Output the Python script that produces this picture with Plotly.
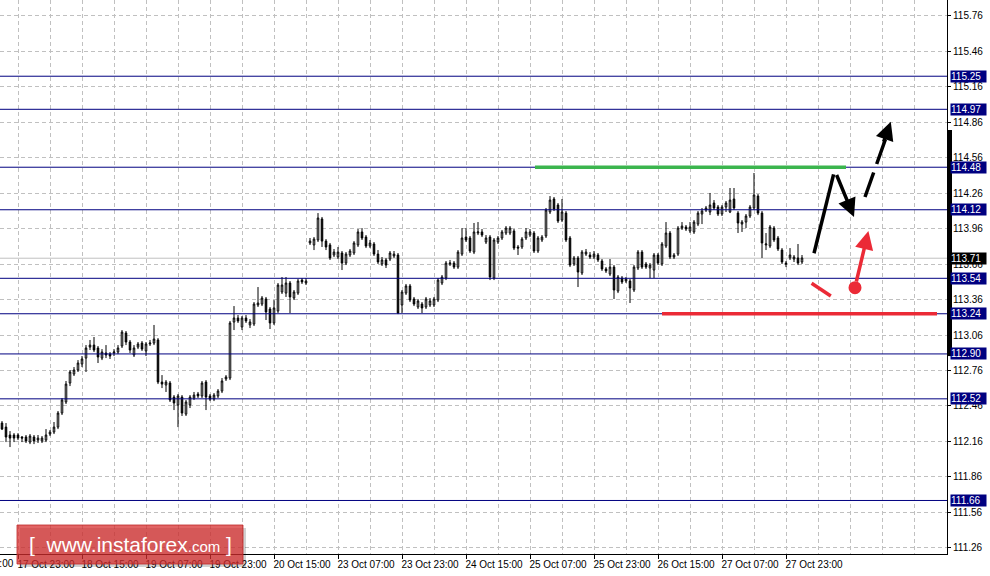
import plotly.graph_objects as go

# ---------------- data (USD/JPY H1) ----------------
OPEN = [
    112.315, 112.281, 112.214, 112.214, 112.214, 112.197, 112.197, 112.154, 112.197, 112.171,
    112.163, 112.171, 112.222, 112.239, 112.281, 112.400, 112.493, 112.654, 112.730, 112.764,
    112.815, 112.865, 112.958, 112.975, 112.950, 112.865, 112.908, 112.899, 112.908, 112.916,
    112.967, 113.077, 113.001, 112.891, 112.958, 112.992, 112.925, 112.984, 112.992, 113.018,
    112.662, 112.637, 112.654, 112.535, 112.468, 112.535, 112.391, 112.468, 112.527, 112.561,
    112.544, 112.662, 112.544, 112.518, 112.544, 112.586, 112.688, 112.696, 113.170, 113.204,
    113.128, 113.204, 113.145, 113.153, 113.314, 113.322, 113.365, 113.280, 113.162, 113.263,
    113.424, 113.415, 113.500, 113.373, 113.415, 113.525, 113.500, 113.839, 113.822, 113.864,
    114.042, 113.855, 113.822, 113.737, 113.720, 113.754, 113.669, 113.737, 113.754, 113.822,
    113.932, 113.889, 113.813, 113.830, 113.745, 113.661, 113.695, 113.703, 113.729, 113.737,
    113.314, 113.415, 113.475, 113.365, 113.297, 113.322, 113.297, 113.314, 113.314, 113.356,
    113.500, 113.542, 113.661, 113.669, 113.635, 113.745, 113.889, 113.881, 113.762, 113.923,
    113.932, 113.847, 113.889, 113.542, 113.847, 113.881, 113.923, 113.923, 113.940, 113.805,
    113.805, 113.881, 113.906, 113.923, 113.771, 113.864, 113.898, 114.101, 114.211, 114.160,
    114.033, 114.092, 113.881, 113.661, 113.712, 113.585, 113.745, 113.737, 113.720, 113.737,
    113.686, 113.619, 113.576, 113.635, 113.432, 113.542, 113.517, 113.517, 113.441, 113.627,
    113.762, 113.661, 113.627, 113.610, 113.737, 113.661, 113.813, 113.923, 113.720, 113.745,
    113.965, 113.974, 113.940, 113.932, 113.999, 114.084, 114.118, 114.101, 114.177, 114.143,
    114.084, 114.143, 114.101, 114.211, 114.092, 113.999, 114.016, 114.067, 114.135, 114.236,
    114.092, 113.822, 113.813, 113.965, 113.881, 113.779, 113.669, 113.712, 113.703, 113.712,
    113.678,
]
HIGH = [
    112.332, 112.315, 112.247, 112.230, 112.230, 112.205, 112.214, 112.222, 112.214, 112.214,
    112.205, 112.264, 112.256, 112.324, 112.417, 112.527, 112.671, 112.764, 112.789, 112.848,
    112.882, 112.975, 113.018, 113.043, 112.967, 112.941, 112.975, 112.916, 112.941, 112.975,
    113.102, 113.094, 113.018, 112.975, 113.001, 113.009, 113.001, 113.018, 113.145, 113.034,
    112.721, 112.679, 112.671, 112.552, 112.561, 112.552, 112.510, 112.552, 112.578, 112.578,
    112.671, 112.679, 112.561, 112.569, 112.603, 112.696, 112.721, 113.179, 113.305, 113.229,
    113.221, 113.229, 113.195, 113.339, 113.466, 113.390, 113.382, 113.297, 113.356, 113.500,
    113.551, 113.551, 113.517, 113.441, 113.534, 113.542, 113.542, 113.881, 113.889, 114.092,
    114.059, 113.872, 113.839, 113.788, 113.805, 113.771, 113.762, 113.788, 113.855, 113.957,
    113.965, 113.906, 113.864, 113.847, 113.779, 113.720, 113.712, 113.771, 113.771, 113.754,
    113.441, 113.492, 113.492, 113.382, 113.365, 113.339, 113.382, 113.373, 113.382, 113.542,
    113.568, 113.686, 113.695, 113.686, 113.779, 113.965, 113.965, 113.898, 114.008, 114.016,
    113.957, 113.906, 113.906, 113.881, 113.898, 113.949, 113.982, 113.982, 113.957, 113.822,
    113.889, 113.965, 113.957, 113.940, 113.898, 113.906, 114.135, 114.236, 114.228, 114.177,
    114.211, 114.109, 113.898, 113.729, 113.729, 113.779, 113.788, 113.762, 113.771, 113.754,
    113.703, 113.635, 113.703, 113.652, 113.568, 113.559, 113.551, 113.534, 113.652, 113.779,
    113.779, 113.678, 113.669, 113.754, 113.754, 113.847, 114.016, 113.940, 113.754, 113.982,
    114.016, 113.991, 114.016, 114.033, 114.109, 114.135, 114.152, 114.262, 114.202, 114.160,
    114.160, 114.194, 114.304, 114.304, 114.109, 114.033, 114.084, 114.160, 114.431, 114.253,
    114.109, 113.923, 113.991, 113.982, 113.898, 113.796, 113.686, 113.796, 113.737, 113.830,
    113.737,
]
LOW = [
    112.256, 112.154, 112.112, 112.154, 112.171, 112.154, 112.146, 112.137, 112.137, 112.146,
    112.146, 112.154, 112.205, 112.222, 112.264, 112.383, 112.476, 112.628, 112.713, 112.747,
    112.789, 112.747, 112.933, 112.916, 112.823, 112.848, 112.865, 112.857, 112.882, 112.899,
    112.950, 112.975, 112.908, 112.874, 112.941, 112.925, 112.882, 112.967, 112.975, 112.645,
    112.611, 112.578, 112.493, 112.425, 112.281, 112.375, 112.375, 112.442, 112.510, 112.527,
    112.527, 112.425, 112.501, 112.501, 112.527, 112.569, 112.671, 112.679, 113.102, 113.162,
    113.102, 113.162, 113.119, 113.136, 113.297, 113.305, 113.187, 113.111, 113.145, 113.246,
    113.407, 113.382, 113.246, 113.356, 113.399, 113.492, 113.483, 113.822, 113.779, 113.847,
    113.805, 113.779, 113.695, 113.720, 113.703, 113.610, 113.652, 113.720, 113.737, 113.805,
    113.864, 113.796, 113.796, 113.729, 113.661, 113.644, 113.627, 113.686, 113.712, 113.237,
    113.246, 113.399, 113.339, 113.305, 113.280, 113.246, 113.280, 113.297, 113.297, 113.339,
    113.483, 113.525, 113.644, 113.619, 113.619, 113.729, 113.847, 113.754, 113.745, 113.906,
    113.889, 113.830, 113.525, 113.525, 113.830, 113.864, 113.906, 113.906, 113.779, 113.737,
    113.788, 113.864, 113.889, 113.754, 113.754, 113.847, 113.881, 114.084, 114.109, 114.008,
    114.016, 113.847, 113.635, 113.644, 113.466, 113.568, 113.729, 113.703, 113.703, 113.678,
    113.602, 113.585, 113.559, 113.365, 113.415, 113.492, 113.500, 113.331, 113.424, 113.610,
    113.619, 113.619, 113.542, 113.542, 113.652, 113.644, 113.796, 113.703, 113.703, 113.729,
    113.949, 113.940, 113.923, 113.915, 113.982, 113.999, 114.101, 114.075, 114.118, 114.067,
    114.067, 114.101, 114.092, 114.118, 113.923, 113.932, 113.965, 114.050, 114.118, 114.075,
    113.712, 113.779, 113.796, 113.847, 113.771, 113.661, 113.635, 113.695, 113.678, 113.652,
    113.661,
]
CLOSE = [
    112.264, 112.197, 112.188, 112.188, 112.188, 112.188, 112.163, 112.205, 112.163, 112.188,
    112.188, 112.214, 112.239, 112.281, 112.400, 112.510, 112.645, 112.747, 112.764, 112.823,
    112.857, 112.950, 112.975, 112.933, 112.874, 112.916, 112.891, 112.882, 112.916, 112.950,
    113.085, 113.001, 112.933, 112.950, 112.984, 112.941, 112.984, 112.992, 113.026, 112.662,
    112.645, 112.662, 112.510, 112.485, 112.544, 112.400, 112.493, 112.535, 112.552, 112.544,
    112.654, 112.535, 112.518, 112.552, 112.586, 112.671, 112.705, 113.162, 113.204, 113.179,
    113.204, 113.179, 113.170, 113.322, 113.331, 113.373, 113.255, 113.162, 113.289, 113.483,
    113.483, 113.500, 113.382, 113.424, 113.517, 113.509, 113.517, 113.855, 113.872, 114.050,
    113.855, 113.805, 113.712, 113.762, 113.762, 113.669, 113.745, 113.771, 113.839, 113.932,
    113.881, 113.813, 113.839, 113.745, 113.678, 113.695, 113.652, 113.754, 113.745, 113.246,
    113.424, 113.475, 113.356, 113.322, 113.348, 113.289, 113.365, 113.348, 113.365, 113.525,
    113.551, 113.669, 113.669, 113.635, 113.762, 113.881, 113.864, 113.771, 113.932, 113.932,
    113.906, 113.881, 113.551, 113.864, 113.881, 113.932, 113.965, 113.965, 113.796, 113.796,
    113.872, 113.932, 113.932, 113.771, 113.881, 113.889, 114.118, 114.202, 114.126, 114.025,
    114.101, 113.864, 113.652, 113.712, 113.593, 113.762, 113.762, 113.720, 113.745, 113.695,
    113.619, 113.602, 113.635, 113.441, 113.551, 113.509, 113.534, 113.458, 113.635, 113.762,
    113.635, 113.635, 113.652, 113.737, 113.669, 113.830, 113.923, 113.720, 113.737, 113.965,
    113.982, 113.957, 113.974, 114.016, 114.092, 114.109, 114.135, 114.160, 114.135, 114.084,
    114.143, 114.177, 114.202, 114.135, 114.008, 114.016, 114.067, 114.143, 114.245, 114.092,
    113.839, 113.830, 113.974, 113.864, 113.788, 113.678, 113.661, 113.737, 113.720, 113.669,
    113.712,
]
BARS = list(range(len(CLOSE)))

TICK_BARS = [4, 20, 36, 52, 68, 84, 100, 116, 132, 148, 164, 180, 196]
TICK_LABELS = ["17 Oct 23:00", "18 Oct 15:00", "19 Oct 07:00", "19 Oct 23:00",
               "20 Oct 15:00", "23 Oct 07:00", "23 Oct 23:00", "24 Oct 15:00",
               "25 Oct 07:00", "25 Oct 23:00", "26 Oct 15:00", "27 Oct 07:00",
               "27 Oct 23:00"]
FIRST_LABEL = "17 Oct 07:00"
GRID_BARS = [4 + 8 * i for i in range(30)]

PRICE_TICKS = [115.76, 115.46, 115.16, 114.86, 114.56, 114.26, 113.96, 113.66,
               113.36, 113.06, 112.76, 112.46, 112.16, 111.86, 111.56, 111.26]
LEVELS = [115.25, 114.97, 114.48, 114.12, 113.54, 113.24, 112.90, 112.52, 111.66]
CURRENT_PRICE = 113.71

RESIST_LEVEL = 114.48
SUPPORT_LEVEL = 113.24

# analyst drawing (bar index, price)
UP_LEG = [(203.0, 113.752), (207.9, 114.419)]
DOWN_ARROW = [(208.5, 114.427), (213.0, 114.059)]
DASH_LEG = [(215.75, 114.228), (220.9, 114.72)]
DASH_HEAD = [(220.3, 114.685), (222.2, 114.865)]
RED_TICK = [(202.4, 113.498), (207.2, 113.390)]
RED_DOT = (213.25, 113.461)
RED_ARROW = [(213.5, 113.500), (216.6, 113.940)]
GREEN_SPAN = (133.25, 211.0)
RED_SPAN = (165.0, 233.75)

X_RANGE = [-0.5, 236.25]
Y_RANGE = [111.207, 115.895]

NAVY = "#000080"
GRID = "#c0c0c0"
GREEN = "#3bb54e"
RED = "#eb2a36"
FONT = "Liberation Sans"
PLOT_W = 947
PLOT_H = 554

fig = go.Figure()
fig.add_trace(go.Candlestick(
    x=BARS, open=OPEN, high=HIGH, low=LOW, close=CLOSE,
    increasing=dict(line=dict(color="black", width=1), fillcolor="white"),
    decreasing=dict(line=dict(color="black", width=1), fillcolor="black"),
    whiskerwidth=0, hoverinfo="none", showlegend=False,
))

shapes = []
shapes.append(dict(type="line", xref="paper", x0=0, x1=1, yref="y",
                   y0=CURRENT_PRICE, y1=CURRENT_PRICE,
                   line=dict(color="#c0c0c0", width=1), layer="between"))
for lv in LEVELS:
    shapes.append(dict(type="line", xref="paper", x0=0, x1=1, yref="y", y0=lv, y1=lv,
                       line=dict(color=NAVY, width=1), layer="above"))
shapes.append(dict(type="line", xref="x", yref="y", x0=GREEN_SPAN[0], x1=GREEN_SPAN[1],
                   y0=RESIST_LEVEL, y1=RESIST_LEVEL, line=dict(color=GREEN, width=3.5), layer="above"))
shapes.append(dict(type="line", xref="x", yref="y", x0=RED_SPAN[0], x1=RED_SPAN[1],
                   y0=SUPPORT_LEVEL, y1=SUPPORT_LEVEL, line=dict(color=RED, width=3.5), layer="above"))
shapes.append(dict(type="line", xref="x", yref="y", x0=UP_LEG[0][0], y0=UP_LEG[0][1],
                   x1=UP_LEG[1][0], y1=UP_LEG[1][1], line=dict(color="black", width=3.5), layer="above"))
shapes.append(dict(type="line", xref="x", yref="y", x0=DASH_LEG[0][0], y0=DASH_LEG[0][1],
                   x1=DASH_LEG[1][0], y1=DASH_LEG[1][1],
                   line=dict(color="black", width=3.5, dash="26px,9px"), layer="above"))
shapes.append(dict(type="line", xref="x", yref="y", x0=RED_TICK[0][0], y0=RED_TICK[0][1],
                   x1=RED_TICK[1][0], y1=RED_TICK[1][1], line=dict(color=RED, width=3.5), layer="above"))
shapes.append(dict(type="circle", xref="x", yref="y", xsizemode="pixel", ysizemode="pixel",
                   xanchor=RED_DOT[0], yanchor=RED_DOT[1], x0=-6.5, x1=6.5, y0=-6.5, y1=6.5,
                   fillcolor=RED, line=dict(width=0), layer="above"))
shapes.append(dict(type="rect", xref="paper", xsizemode="pixel", xanchor=1, x0=1, x1=5,
                   yref="y", y0=112.882, y1=114.795, fillcolor="black", line=dict(width=0),
                   layer="above"))
wx0, wx1 = 17 / PLOT_W, 243 / PLOT_W
wy0, wy1 = (PLOT_H - 564) / PLOT_H, (PLOT_H - 525) / PLOT_H
shapes.append(dict(type="rect", xref="paper", yref="paper",
                   x0=wx0 + 3 / PLOT_W, x1=wx1 + 3 / PLOT_W, y0=wy0 - 3 / PLOT_H, y1=wy1 - 3 / PLOT_H,
                   fillcolor="rgba(0,0,0,0.18)", line=dict(width=0), layer="above"))
shapes.append(dict(type="rect", xref="paper", yref="paper", x0=wx0, x1=wx1, y0=wy0, y1=wy1,
                   fillcolor="rgba(214,46,46,0.74)", line=dict(color="rgba(190,40,40,0.8)", width=1),
                   layer="above"))

annotations = []
for lv in LEVELS:
    annotations.append(dict(xref="paper", x=1, xanchor="left", xshift=3, yref="y", y=lv,
                            yanchor="middle", text=f"{lv:.2f}", showarrow=False,
                            bgcolor=NAVY, font=dict(color="white", size=10, family=FONT),
                            width=35, height=11, align="left", borderpad=0))
annotations.append(dict(xref="paper", x=1, xanchor="left", xshift=3, yref="y", y=CURRENT_PRICE,
                        yanchor="middle", text=f"{CURRENT_PRICE:.2f}", showarrow=False,
                        bgcolor="black", font=dict(color="white", size=10, family=FONT),
                        width=35, height=11, align="left", borderpad=0))
annotations.append(dict(xref="x", yref="y", axref="x", ayref="y",
                        x=DOWN_ARROW[1][0], y=DOWN_ARROW[1][1], ax=DOWN_ARROW[0][0], ay=DOWN_ARROW[0][1],
                        text="", showarrow=True, arrowhead=2, arrowsize=1.05, arrowwidth=3.5,
                        arrowcolor="black", standoff=0))
annotations.append(dict(xref="x", yref="y", axref="x", ayref="y",
                        x=DASH_HEAD[1][0], y=DASH_HEAD[1][1], ax=DASH_HEAD[0][0], ay=DASH_HEAD[0][1],
                        text="", showarrow=True, arrowhead=2, arrowsize=1.05, arrowwidth=3.5,
                        arrowcolor="black", standoff=0))
annotations.append(dict(xref="x", yref="y", axref="x", ayref="y",
                        x=RED_ARROW[1][0], y=RED_ARROW[1][1], ax=RED_ARROW[0][0], ay=RED_ARROW[0][1],
                        text="", showarrow=True, arrowhead=2, arrowsize=1.05, arrowwidth=3.5,
                        arrowcolor=RED, standoff=0))
annotations.append(dict(xref="paper", x=-46 / PLOT_W, xanchor="left", yref="paper", y=0,
                        yanchor="top", yshift=-2, text=FIRST_LABEL, showarrow=False,
                        font=dict(color="black", size=10, family=FONT)))
annotations.append(dict(xref="paper", yref="paper", x=(wx0 + wx1) / 2, y=(wy0 + wy1) / 2,
                        xanchor="center", yanchor="middle", showarrow=False,
                        text="[  www.instaforex<span style='font-size:15px'>.com</span> ]",
                        font=dict(color="white", size=21, family=FONT)))

fig.update_layout(
    width=990, height=576,
    margin=dict(l=0, r=990 - PLOT_W, t=0, b=576 - PLOT_H, pad=0),
    paper_bgcolor="white", plot_bgcolor="white",
    showlegend=False, boxgap=0.45, hovermode=False,
    shapes=shapes, annotations=annotations,
    xaxis=dict(
        range=X_RANGE, rangeslider=dict(visible=False), fixedrange=True,
        tickmode="array", tickvals=TICK_BARS, ticktext=TICK_LABELS,
        ticks="outside", ticklen=4, tickcolor="black", tickwidth=1,
        ticklabelshift=28, ticklabelstandoff=-3,
        showline=True, linecolor="black", linewidth=1,
        showgrid=True, gridcolor=GRID, griddash="4px,3px", gridwidth=1,
        minor=dict(tickmode="array", tickvals=GRID_BARS, showgrid=True, gridcolor=GRID,
                   griddash="4px,3px", gridwidth=1, ticks=""),
        tickfont=dict(color="black", size=10, family=FONT),
        zeroline=False,
    ),
    yaxis=dict(
        range=Y_RANGE, side="right", fixedrange=True,
        tickmode="array", tickvals=PRICE_TICKS, ticktext=[f"{v:.2f}" for v in PRICE_TICKS],
        ticks="outside", ticklen=3, tickcolor="black", tickwidth=1,
        showline=True, linecolor="black", linewidth=1,
        showgrid=True, gridcolor=GRID, griddash="4px,3px", gridwidth=1,
        tickfont=dict(color="black", size=10, family=FONT),
        zeroline=False,
    ),
)

fig.write_html("out.html", config={"displayModeBar": False},
               post_script="document.body.style.margin='0px';document.body.style.overflow='hidden';")
